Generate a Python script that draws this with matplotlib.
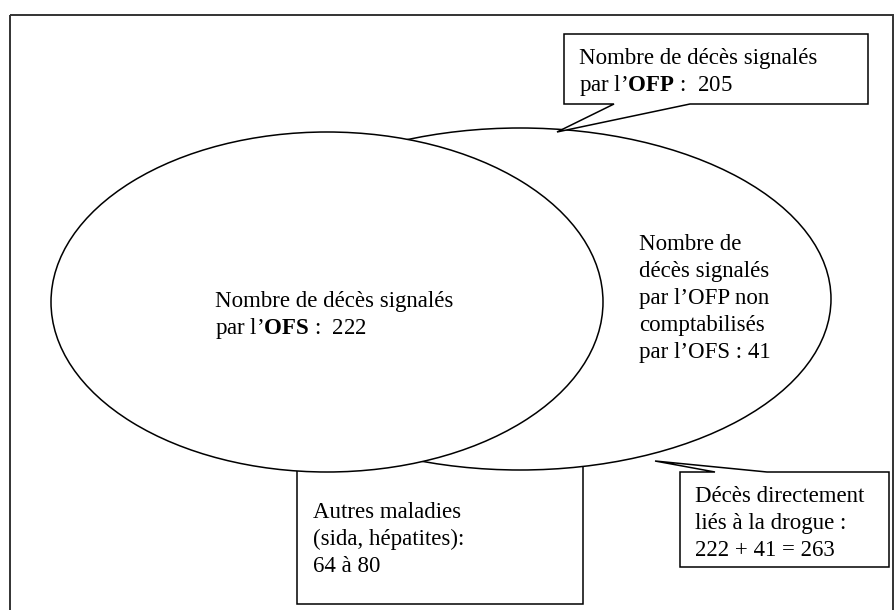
import matplotlib
matplotlib.use("Agg")
import matplotlib.pyplot as plt
from matplotlib.patches import Ellipse, Rectangle, Polygon

# ---- data (values shown in the diagram) ----
ofs_deaths = 222
ofp_deaths = 205
ofp_not_ofs = 41
other_diseases = ("64", "80")
direct_total = ofs_deaths + ofp_not_ofs

top_box_lines = ["Nombre de décès signalés",
                 "par l’$\\mathbf{OFP}$ :  " + str(ofp_deaths)]
ofs_lines = ["Nombre de décès signalés",
             "par l’$\\mathbf{OFS}$ :  " + str(ofs_deaths)]
right_lines = ["Nombre de", "décès signalés", "par l’OFP non",
               "comptabilisés", "par l’OFS : " + str(ofp_not_ofs)]
other_lines = ["Autres maladies", "(sida, hépatites):",
               f"{other_diseases[0]} à {other_diseases[1]}"]
direct_lines = ["Décès directement", "liés à la drogue :",
                f"{ofs_deaths} + {ofp_not_ofs} = {direct_total}"]

plt.rcParams['mathtext.fontset'] = 'custom'
plt.rcParams['mathtext.rm'] = 'Liberation Serif'
plt.rcParams['mathtext.it'] = 'Liberation Serif:italic'
plt.rcParams['mathtext.bf'] = 'Liberation Serif:bold'

W, H = 894, 610
fig = plt.figure(figsize=(W / 100, H / 100), dpi=100)
ax = fig.add_axes([0, 0, 1, 1])
ax.set_xlim(0, W)
ax.set_ylim(H, 0)
ax.axis('off')

LW = 1.1
FS = 16.5
FONT = 'Liberation Serif'

# outer frame
ax.add_patch(Rectangle((10, 15), 883, 620, fill=False, ec='#333333', lw=1.4, zorder=1))

# "Autres maladies" box (behind ellipses)
ax.add_patch(Rectangle((297, 440), 286, 164, fc='white', ec='black', lw=LW, zorder=2))

# callout bottom right
ax.add_patch(Polygon([(680, 472), (715, 472), (655, 461), (767, 472), (889, 472),
                      (889, 567), (680, 567)], closed=True, fc='white', ec='black',
                     lw=LW, zorder=2))

# right ellipse (OFP)
ax.add_patch(Ellipse((520, 299), 622, 342, fc='white', ec='black', lw=LW, zorder=3))
# left ellipse (OFS)
ax.add_patch(Ellipse((327, 302), 552, 340, fc='white', ec='black', lw=LW, zorder=4))

# callout top
ax.add_patch(Polygon([(564, 34), (868, 34), (868, 104), (690, 104), (557, 132),
                      (614, 104), (564, 104)], closed=True, fc='white', ec='black',
                     lw=LW, zorder=5))


def lines(x, y0, txts, dy=27):
    for i, t in enumerate(txts):
        ax.text(x, y0 + i * dy, t, fontsize=FS, family=FONT, ha='left',
                va='baseline', zorder=10)


lines(579, 64, top_box_lines)
lines(215, 307, ofs_lines)
lines(639, 250, right_lines)
lines(313, 518, other_lines)
lines(695, 502, direct_lines)

fig.savefig('out.png', dpi=100)
